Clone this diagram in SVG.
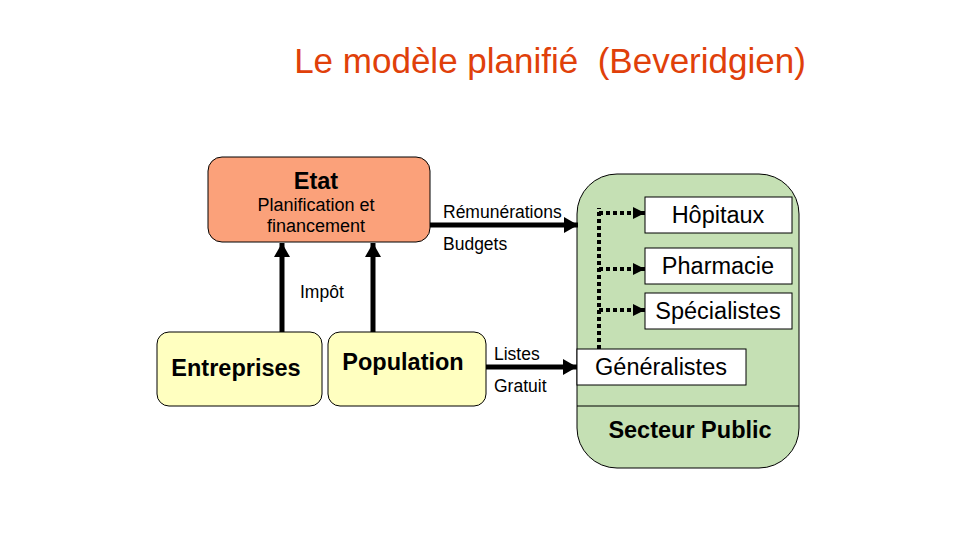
<svg xmlns="http://www.w3.org/2000/svg" width="960" height="540" viewBox="0 0 960 540">
<style>
text{font-family:"Liberation Sans",Arial,sans-serif;fill:#000}
.lbl{font-size:17.5px}
.sub{font-size:18px}
.big{font-size:23.5px}
.b{font-weight:bold}
.thick{stroke:#000;stroke-width:5;fill:none}
.dot{stroke:#000;stroke-width:4;stroke-dasharray:4 3;fill:none}
.box{stroke:#000;stroke-width:1}
</style>
<defs>
<marker id="ah" markerUnits="userSpaceOnUse" markerWidth="16" markerHeight="16" refX="14" refY="8" orient="auto">
<path d="M0,0 L14,8 L0,16 Z" fill="#000"/>
</marker>
<marker id="ahs" markerUnits="userSpaceOnUse" markerWidth="14" markerHeight="14" refX="12" refY="7" orient="auto">
<path d="M0,1 L12,7 L0,13 Z" fill="#000"/>
</marker>
</defs>
<rect width="960" height="540" fill="#fff"/>
<text x="550" y="73" font-size="35" text-anchor="middle" style="fill:#E0400A;white-space:pre" xml:space="preserve">Le modèle planifié  (Beveridgien)</text>

<g id="secteur-public">
<rect class="box" x="577" y="174" width="222" height="294" rx="40" fill="#C5E0B4"/>
<line x1="577" y1="406" x2="799" y2="406" stroke="#000" stroke-width="1"/>
<text class="big b" x="690" y="438" text-anchor="middle">Secteur Public</text>
</g>
<g id="etat">
<rect class="box" x="208" y="157" width="222" height="85" rx="14" fill="#FBA17A"/>
<text class="big b" x="316" y="189" text-anchor="middle">Etat</text>
<text class="sub" x="316" y="211" text-anchor="middle">Planification et</text>
<text class="sub" x="316" y="232" text-anchor="middle">financement</text>
</g>
<g id="entreprises">
<rect class="box" x="157" y="332" width="165" height="74" rx="12" fill="#FFFFC0"/>
<text class="big b" x="236" y="376" text-anchor="middle">Entreprises</text>
</g>
<g id="population">
<rect class="box" x="328" y="332" width="158" height="74" rx="12" fill="#FFFFC0"/>
<text class="big b" x="403" y="370" text-anchor="middle">Population</text>
</g>
<g id="hopitaux">
<rect class="box" x="645" y="197" width="147" height="36" fill="#fff"/>
<text class="big" x="718" y="223" text-anchor="middle">Hôpitaux</text>
</g>
<g id="pharmacie">
<rect class="box" x="645" y="248" width="147" height="36" fill="#fff"/>
<text class="big" x="718" y="274" text-anchor="middle">Pharmacie</text>
</g>
<g id="specialistes">
<rect class="box" x="645" y="293" width="147" height="36" fill="#fff"/>
<text class="big" x="718" y="319" text-anchor="middle">Spécialistes</text>
</g>
<g id="generalistes">
<rect class="box" x="577" y="349" width="169" height="36" fill="#fff"/>
<text class="big" x="661" y="375" text-anchor="middle">Généralistes</text>
</g>

<g id="connectors">
<line class="thick" x1="430" y1="225" x2="578" y2="225" marker-end="url(#ah)"/>
<line class="thick" x1="486" y1="367" x2="577" y2="367" marker-end="url(#ah)"/>
<line class="thick" x1="282" y1="332" x2="282" y2="243" marker-end="url(#ah)"/>
<line class="thick" x1="373" y1="332" x2="373" y2="243" marker-end="url(#ah)"/>
<line class="dot" x1="599" y1="349" x2="599" y2="208"/>
<line class="dot" x1="599" y1="213" x2="645" y2="213" marker-end="url(#ahs)"/>
<line class="dot" x1="599" y1="269" x2="645" y2="269" marker-end="url(#ahs)"/>
<line class="dot" x1="599" y1="310" x2="645" y2="310" marker-end="url(#ahs)"/>
<text class="lbl" x="443" y="218">Rémunérations</text>
<text class="lbl" x="443" y="250">Budgets</text>
<text class="lbl" x="300" y="298">Impôt</text>
<text class="lbl" x="494" y="360">Listes</text>
<text class="lbl" x="494" y="392">Gratuit</text>
</g>
</svg>
